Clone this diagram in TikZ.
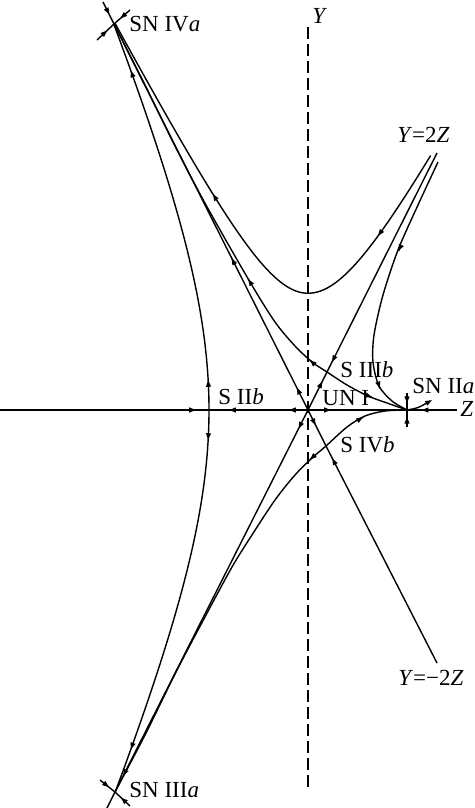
\documentclass[tikz,border=0pt]{standalone}
\usepackage{fontspec}
\setmainfont{Liberation Serif}
\usetikzlibrary{arrows.meta,decorations.markings}
\newcommand{\flowtip}[2]{\draw[curve,-{>}] #1 -- ++#2;}
\begin{document}
\begin{tikzpicture}[x=0.5pt,y=-0.5pt,
  >={Triangle[length=3.4pt,width=2.4pt]},
  curve/.style={line width=0.7pt},
  axisdash/.style={line width=0.55pt,dash pattern=on 6pt off 2.5pt},
  fw/.style={postaction={decorate,decoration={markings,mark=at position #1 with {\arrow{>}}}}},
  bw/.style={postaction={decorate,decoration={markings,mark=at position #1 with {\arrowreversed{>}}}}},
  lab/.style={inner sep=0pt,anchor=base west,font=\fontsize{11.5}{13}\selectfont}]
\useasboundingbox (0,0) rectangle (475,808);
% fixed points and ends
\coordinate (O) at (308,410);
\coordinate (S2b) at (210,410);
\coordinate (SN2a) at (407,410);
\coordinate (SN4a) at (114,24);
\coordinate (SN3a) at (115,792);
\coordinate (S3b) at (327,372);
\coordinate (S4b) at (326,446);
\coordinate (Zl) at (0,410);
\coordinate (Zr) at (457,410);
\coordinate (L1top) at (437,153);
\coordinate (L1bot) at (106,810);
\coordinate (L2top) at (103,2);
\coordinate (L2bot) at (437,663);
\coordinate (Ytop) at (308,27);
\coordinate (Ybot) at (308,790);
% dashed Y axis
\draw[axisdash] (Ytop) -- (Ybot);
% Z axis
\draw[curve,fw=98pt] (Zl) -- (S2b);
\draw[curve,fw=9.5pt,fw=39.5pt] (O) -- (S2b);
\draw[curve,fw=11.5pt] (O) -- (SN2a);
\draw[curve,fw=17.7pt] (Zr) -- (SN2a);
% curve through S IIb
\draw[curve,fw=15pt,fw=175pt] plot[domain=0:3.9,samples=60,variable=\t]
  ({308-99*sqrt(1+3*(\t)*(\t)/16)},{410-99*\t});
\draw[curve,fw=15pt,fw=175pt] plot[domain=0:3.86,samples=60,variable=\t]
  ({308-99*sqrt(1+3*(\t)*(\t)/16)},{410+99*\t});
% line Y=-2Z
\draw[curve,fw=12.5pt,fw=85pt] (O) -- (SN4a);
\draw[curve,fw=7pt] (L2top) -- (SN4a);
\draw[curve,fw=8.5pt] (O) -- (S4b);
\draw[curve,fw=115pt] (L2bot) -- (S4b);
% line Y=2Z
\draw[curve,fw=16pt] (O) -- (S3b);
\draw[curve,fw=117pt] (L1top) -- (S3b);
\draw[curve,fw=10.5pt,fw=205pt] (O) -- (SN3a);
\draw[curve] (SN3a) -- (L1bot);
% separatrices of S IIIb (one smooth orbit SN IVa -- S IIIb -- SN IIa)
\draw[curve] plot[smooth] coordinates {(SN4a) (145,85) (176,148) (206,205) (250,282) (275,322) (295,346) (312,362) (S3b) (347,385) (368,396) (387,403) (SN2a)};
\flowtip{(310,360.1)}{(-0.073,-0.068)}
\flowtip{(248.3,279.2)}{(-0.053,-0.085)}
\flowtip{(372,397.3)}{(0.094,0.034)}
% separatrices of S IVb (one smooth orbit SN IIIa -- S IVb -- SN IIa)
\draw[curve] plot[smooth] coordinates {(SN3a) (145,735) (176,672) (206,615) (232,567) (250,538) (275,500) (295,475) (312,458) (S4b) (347,427) (365,416) (385,411) (SN2a)};
\flowtip{(363,417.2)}{(0.085,-0.052)}
\flowtip{(310,459.5)}{(-0.075,0.066)}
% upper hyperbola-like orbit
\draw[curve,bw=0.373,bw=0.818] plot[domain=-1.95:1.24,samples=90]
  ({308+99*\x},{410-99*sqrt(1.39+((\x>0)*3.4+(\x<=0)*3.65)*(\x)*(\x))});
% orbit entering SN IIa from above
\draw[curve] plot[smooth] coordinates {(438,162) (418,205) (398,250) (383,295) (374,335) (373,362) (379,386) (392,401) (SN2a)};
\flowtip{(398.5,251)}{(-0.043,0.09)}
\flowtip{(379.8,388.3)}{(0.03,0.095)}
% outgoing orbit of SN IIa
\draw[curve,-{>}] (SN2a) .. controls (418,408) .. (432,400);
% short stubs
\draw[curve,fw=0.6] (97,40) -- (SN4a);
\draw[curve,fw=0.6] (130,10) -- (SN4a);
\draw[curve,fw=0.6] (100,780) -- (SN3a);
\draw[curve,fw=0.6] (130,806) -- (SN3a);
\draw[curve,fw=0.6] (407,393) -- (SN2a);
\draw[curve,fw=0.6] (407,427) -- (SN2a);
% labels
\node[lab] (lSN4a) at (129,32) {SN IV\textit{a}};
\node[lab] (lSN3a) at (129,797) {SN III\textit{a}};
\node[lab] (lS2b) at (218,404) {S II\textit{b}};
\node[lab] (lUN1) at (322,405) {UN I};
\node[lab] (lS3b) at (340,377) {S III\textit{b}};
\node[lab] (lS4b) at (340,452) {S IV\textit{b}};
\node[lab] (lSN2a) at (412,393) {SN II\textit{a}};
\node[lab] (lY) at (312,24) {\textit{Y}};
\node[lab] (lZ) at (460,416) {\textit{Z}};
\node[lab] (lL1) at (397,142) {\textit{Y}=2\textit{Z}};
\node[lab] (lL2) at (398,685) {\textit{Y}=−2\textit{Z}};
\end{tikzpicture}
\end{document}
